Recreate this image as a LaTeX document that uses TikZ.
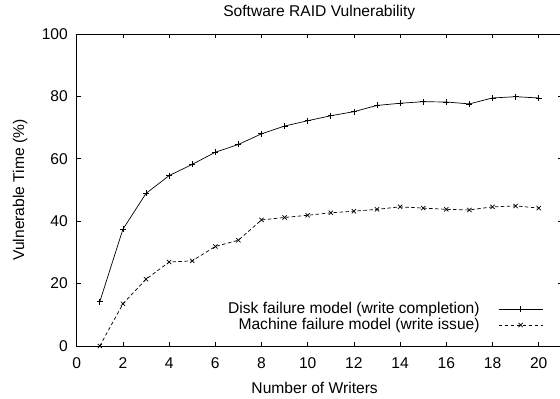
\documentclass[tikz,border=0pt]{standalone}
\usepackage{fontspec}
\setmainfont{Liberation Sans}
\begin{document}
\begin{tikzpicture}[x=23.1pt,y=3.12pt,
  font=\fontsize{15.6}{18}\selectfont,
  curve/.style={line width=0.7pt},
  ticklab/.style={inner sep=0pt}]
  % Axes limits
  \def\xmax{21}
  \def\ymax{100}
  % Tick lengths (about 4pt each way)
  \def\tx{0.173}
  \def\ty{1.28}

  \useasboundingbox (-3.320,-16.667) rectangle (20.922,110.897);

  % Frame
  \draw[line width=0.7pt] (0,0) rectangle (\xmax,\ymax);

  % Ticks, mirrored on the opposite side
  \foreach \t in {0,2,...,20}{
    \draw[line width=0.6pt] (\t,0) -- (\t,\ty);
    \draw[line width=0.6pt] (\t,\ymax) -- (\t,\ymax-\ty);
    \node[ticklab] (xt\t) at (\t,-5.55) {\t};
  }
  \foreach \t in {0,20,...,100}{
    \draw[line width=0.6pt] (0,\t) -- (\tx,\t);
    \draw[line width=0.6pt] (\xmax,\t) -- (\xmax-\tx,\t);
    \node[ticklab,anchor=east] (yt\t) at (-0.377,\t) {\t};
  }

  % Title and axis labels
  \node (title) at (10.5,107.05) {Software RAID Vulnerability};
  \node (xlab) at (10.3,-13.46) {Number of Writers};
  \node[rotate=90] (ylab) at (-2.455,50) {Vulnerable Time (\%)};

  % Disk failure model
  \draw[curve] plot[mark=+,mark size=3pt] coordinates {
    (1,14.2) (2,37.4) (3,48.9) (4,54.6) (5,58.2) (6,62.1) (7,64.6)
    (8,68.0) (9,70.5) (10,72.2) (11,73.8) (12,75.1) (13,77.1) (14,77.8)
    (15,78.3) (16,78.2) (17,77.6) (18,79.5) (19,79.9) (20,79.5)};

  % Machine failure model
  \draw[curve,dash pattern=on 3.5pt off 2.5pt]
    plot[mark=x,mark size=3pt,mark options={solid}] coordinates {
    (1,0) (2,13.5) (3,21.4) (4,26.9) (5,27.3) (6,31.9) (7,33.9)
    (8,40.4) (9,41.2) (10,41.9) (11,42.7) (12,43.2) (13,43.8) (14,44.6)
    (15,44.2) (16,43.8) (17,43.6) (18,44.6) (19,44.9) (20,44.2)};

  % Legend
  \node[ticklab,anchor=east] (key1) at (17.45,11.76) {Disk failure model (write completion)};
  \node[ticklab,anchor=east] (key2) at (17.45,6.73) {Machine failure model (write issue)};
  \coordinate (s1a) at (18.27,11.76);
  \coordinate (s1b) at (20.17,11.76);
  \coordinate (s2a) at (18.27,6.73);
  \coordinate (s2b) at (20.17,6.73);
  \draw[curve] (s1a) -- (s1b);
  \draw[curve,dash pattern=on 3.5pt off 2.5pt] (s2a) -- (s2b);
  \path plot[mark=+,mark size=3pt,mark options={curve}] coordinates {(19.22,11.76)};
  \path plot[mark=x,mark size=3pt,mark options={curve,solid}] coordinates {(19.22,6.73)};
\end{tikzpicture}
\end{document}
